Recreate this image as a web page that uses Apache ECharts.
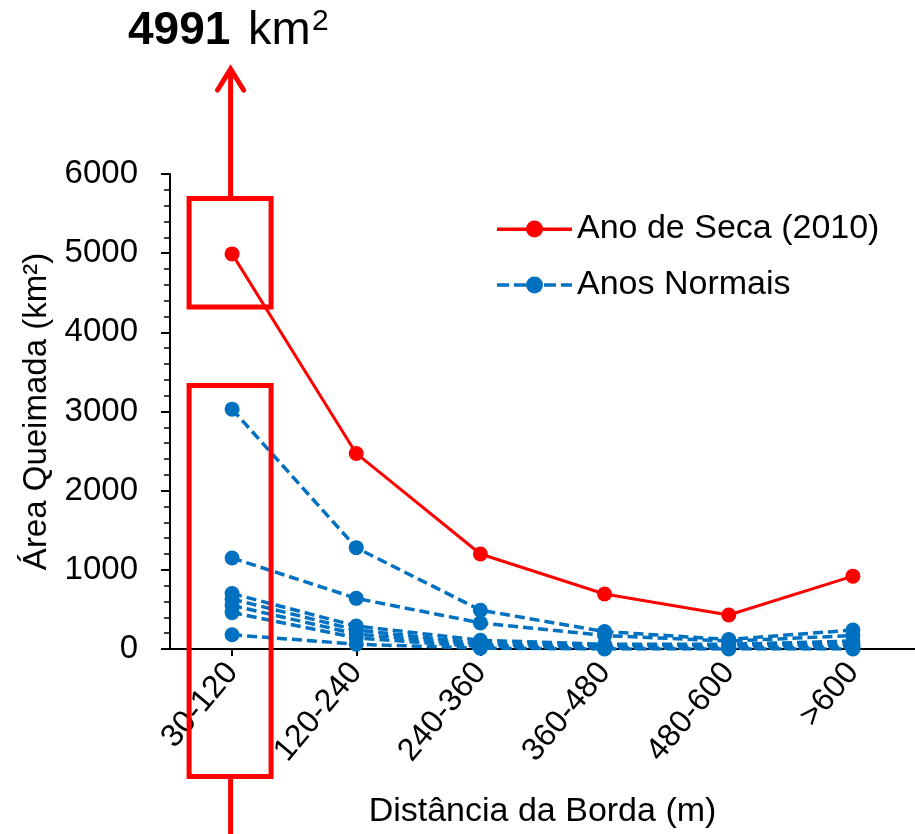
<!DOCTYPE html>
<html>
<head>
<meta charset="utf-8">
<script src="https://cdn.jsdelivr.net/npm/echarts@6/dist/echarts.min.js"></script>
<style>
html,body{margin:0;padding:0;background:#fff;}
#c{width:915px;height:834px;}
</style>
</head>
<body>
<div id="c"></div>
<script>
const categories = ['30-120', '120-240', '240-360', '360-480', '480-600', '>600'];
const drought2010 = [4991, 2470, 1200, 695, 430, 920];
const normal1 = [3030, 1280, 490, 220, 120, 240];
const normal2 = [1150, 640, 330, 170, 100, 170];
const normal3 = [700, 290, 110, 60, 60, 100];
const normal4 = [630, 240, 70, 40, 40, 60];
const normal5 = [550, 190, 50, 20, 20, 30];
const normal6 = [460, 140, 30, 10, 10, 15];
const normal7 = [180, 60, 10, 0, 0, 0];
const normalYears = [normal1, normal2, normal3, normal4, normal5, normal6, normal7];
const yTicks = { min: 0, max: 6000, interval: 1000 };

const FONT = 'Liberation Sans, Arial, sans-serif';
const RED = '#FF0000';
const BLUE = '#0070C0';

// legend icons: line + dot (75 x 17 box), all sub-paths clockwise
const circlePath = 'M29 8.5a8.5 8.5 0 1 1 17 0a8.5 8.5 0 1 1 -17 0Z';
const solidIcon = 'path://M0 7H75V10.5H0Z' + circlePath;
const dashedIcon = 'path://M0 6.75H12V10.25H0ZM17 6.75H29V10.25H17Z' + circlePath +
  'M47 6.75H59V10.25H47ZM64 6.75H75V10.25H64Z';

const chart = echarts.init(document.getElementById('c'));

const blueSeries = normalYears.map(d => ({
  name: 'Anos Normais',
  type: 'line',
  data: d,
  symbol: 'circle',
  symbolSize: 15,
  z: 2,
  itemStyle: { color: BLUE },
  lineStyle: { color: BLUE, width: 3.5, type: [10, 5] },
  emphasis: { disabled: true },
  animation: false
}));

const option = {
  animation: false,
  grid: { left: 170, top: 174, width: 754, height: 477, containLabel: false },
  legend: {
    data: [
      { name: 'Ano de Seca (2010)', icon: solidIcon },
      { name: 'Anos Normais', icon: dashedIcon }
    ],
    orient: 'vertical',
    left: 497,
    top: 212,
    padding: 0,
    itemWidth: 75,
    itemHeight: 17,
    itemGap: 22,
    textStyle: { fontFamily: FONT, fontSize: 34, color: '#000', lineHeight: 34 },
    selectedMode: false
  },
  xAxis: {
    type: 'category',
    data: categories,
    boundaryGap: true,
    name: 'Distância da Borda (m)',
    nameLocation: 'middle',
    nameGap: 146,
    nameTextStyle: { fontFamily: FONT, fontSize: 34, color: '#000' },
    axisLine: { show: true, lineStyle: { color: '#000', width: 2 } },
    axisTick: { show: true, alignWithLabel: true, length: 7, lineStyle: { color: '#000', width: 2 } },
    axisLabel: { rotate: 50, margin: 18, fontFamily: FONT, fontSize: 32, color: '#000', interval: 0 },
    splitLine: { show: false }
  },
  yAxis: {
    type: 'value',
    min: yTicks.min,
    max: yTicks.max,
    interval: yTicks.interval,
    name: 'Área Queimada (km²)',
    nameLocation: 'middle',
    nameGap: 116,
    nameRotate: 90,
    nameTextStyle: { fontFamily: FONT, fontSize: 33, color: '#000' },
    axisLine: { show: true, lineStyle: { color: '#000', width: 2 } },
    axisTick: { show: true, length: 9, lineStyle: { color: '#000', width: 2 } },
    minorTick: { show: true, splitNumber: 5, length: 6, lineStyle: { color: '#000', width: 1.5 } },
    axisLabel: { margin: 32, fontFamily: FONT, fontSize: 33, color: '#000', formatter: v => String(v) },
    splitLine: { show: false }
  },
  series: blueSeries.concat([{
    name: 'Ano de Seca (2010)',
    type: 'line',
    data: drought2010,
    symbol: 'circle',
    symbolSize: 15,
    z: 3,
    itemStyle: { color: RED },
    lineStyle: { color: RED, width: 3 },
    emphasis: { disabled: true },
    animation: false
  }])
};
chart.setOption(option);

// Annotations (red boxes, arrow and the peak label)
const cx = chart.convertToPixel({ xAxisIndex: 0 }, 0) - 2;
const y = v => chart.convertToPixel({ yAxisIndex: 0 }, v);
const box1Top = y(5690), box1Bot = y(4320);
const box2Top = y(3330);
const box2Bot = 776.5;
const redStroke = { stroke: RED, lineWidth: 5, fill: null };
chart.setOption({
  graphic: [
    { type: 'rect', shape: { x: cx - 41, y: box1Top, width: 82, height: box1Bot - box1Top }, style: redStroke, z: 10 },
    { type: 'rect', shape: { x: cx - 41, y: box2Top, width: 82, height: box2Bot - box2Top }, style: redStroke, z: 10 },
    { type: 'line', shape: { x1: cx + 0.5, y1: box1Top - 2.5, x2: cx + 0.5, y2: 72 }, style: { stroke: RED, lineWidth: 5 }, z: 10 },
    { type: 'polyline', shape: { points: [[cx - 12.5, 90], [cx + 0.5, 69], [cx + 13.5, 90]] }, style: { stroke: RED, lineWidth: 5, lineCap: 'round', lineJoin: 'miter', fill: null }, z: 10 },
    { type: 'line', shape: { x1: cx + 0.5, y1: box2Bot + 2.5, x2: cx + 0.5, y2: 840 }, style: { stroke: RED, lineWidth: 5 }, z: 10 },
    { type: 'text', x: 128, y: 31, style: { text: '4991', font: 'bold 46px ' + FONT, fill: '#000', verticalAlign: 'middle', align: 'left' }, z: 10 },
    { type: 'text', x: 248, y: 31, style: { text: 'km', font: '47px ' + FONT, fill: '#000', verticalAlign: 'middle', align: 'left' }, z: 10 },
    { type: 'text', x: 312, y: 22, style: { text: '2', font: '30px ' + FONT, fill: '#000', verticalAlign: 'middle', align: 'left' }, z: 10 }
  ]
});
</script>
</body>
</html>
